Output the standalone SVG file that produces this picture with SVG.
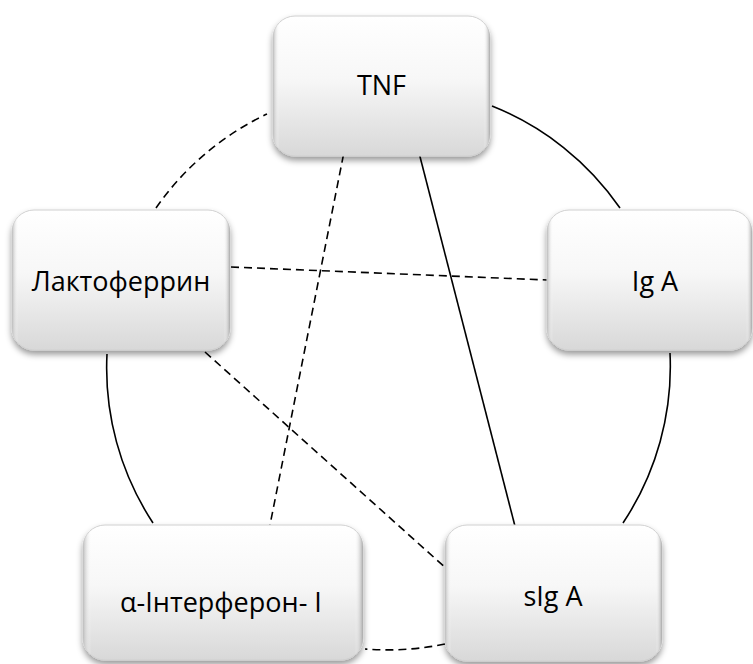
<svg xmlns="http://www.w3.org/2000/svg" width="753" height="664" viewBox="0 0 753 664">
<defs>
<linearGradient id="g" x1="0" y1="0" x2="0" y2="1">
<stop offset="0" stop-color="#ffffff"/>
<stop offset="0.45" stop-color="#f7f7f7"/>
<stop offset="1" stop-color="#d8d8d8"/>
</linearGradient>
<linearGradient id="gs" x1="0" y1="0" x2="1" y2="0">
<stop offset="0" stop-color="#bdbdbd"/>
<stop offset="0.03" stop-color="#ffffff" stop-opacity="0"/>
<stop offset="0.97" stop-color="#ffffff" stop-opacity="0"/>
<stop offset="1" stop-color="#aaaaaa"/>
</linearGradient>
<filter id="sh" x="-10%" y="-10%" width="125%" height="130%">
<feDropShadow dx="0" dy="4" stdDeviation="3" flood-color="#000" flood-opacity="0.4"/>
</filter>
</defs>
<style>
.box{fill:url(#g);stroke:#d0d0d0;stroke-width:1;filter:url(#sh)}
.edge{fill:url(#gs);stroke:none}
.lbl{font-family:"Open Sans","Noto Sans",sans-serif;font-size:27px;fill:#000;text-anchor:middle}
.c{fill:none;stroke:#000;stroke-width:1.6}
.d{stroke-dasharray:8 5}
</style>
<g id="connectors">
<path class="c" d="M492,106 A282,282 0 0 1 620,208"/>
<path class="c" d="M670,353 A282,282 0 0 1 623,523"/>
<path class="c d" d="M445,644 A282,282 0 0 1 365,649"/>
<path class="c" d="M153,523 A282,282 0 0 1 107,354"/>
<path class="c d" d="M156,208 A282,282 0 0 1 267,114"/>
<line class="c d" x1="346" y1="142" x2="268" y2="535"/>
<line class="c" x1="417" y1="145" x2="517" y2="534"/>
<line class="c d" x1="231" y1="267" x2="547" y2="280"/>
<line class="c d" x1="205" y1="352" x2="448" y2="570"/>
</g>
<g id="node-tnf">
<rect class="box" x="273" y="16" width="217" height="140" rx="22"/>
<rect class="edge" x="273" y="16" width="217" height="140" rx="22"/>
<text class="lbl" x="381.5" y="95">TNF</text>
</g>
<g id="node-lactoferrin">
<rect class="box" x="12" y="210" width="218" height="140" rx="22"/>
<rect class="edge" x="12" y="210" width="218" height="140" rx="22"/>
<text class="lbl" x="121" y="291">Лактоферрин</text>
</g>
<g id="node-iga">
<rect class="box" x="547" y="210" width="205" height="140" rx="22"/>
<rect class="edge" x="547" y="210" width="205" height="140" rx="22"/>
<text class="lbl" x="655" y="291">Ig A</text>
</g>
<g id="node-interferon">
<rect class="box" x="83" y="525" width="280" height="135" rx="22"/>
<rect class="edge" x="83" y="525" width="280" height="135" rx="22"/>
<text class="lbl" x="221" y="612">α-Інтерферон- I</text>
</g>
<g id="node-siga">
<rect class="box" x="445" y="525" width="217" height="136" rx="22"/>
<rect class="edge" x="445" y="525" width="217" height="136" rx="22"/>
<text class="lbl" x="553" y="606">sIg A</text>
</g>
</svg>
